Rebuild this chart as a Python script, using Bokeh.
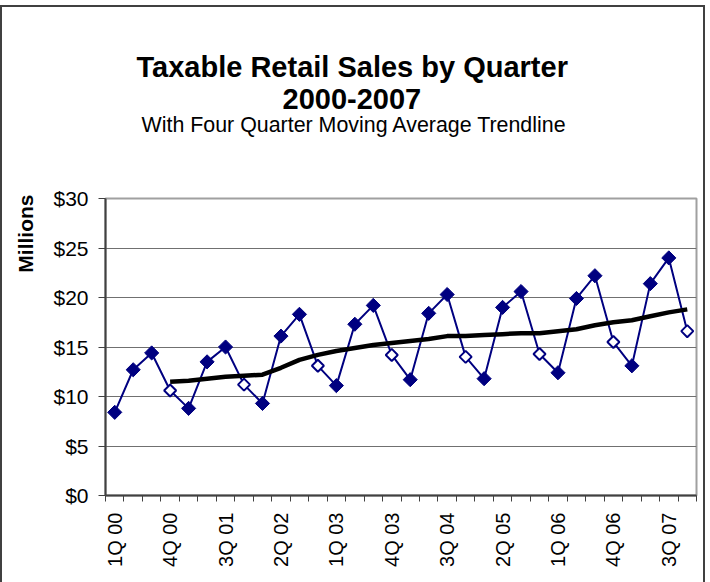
import math
from bokeh.plotting import figure
from bokeh.models import Range1d, FixedTicker, PrintfTickFormatter, ColumnDataSource, Title
from bokeh.embed import file_html
from bokeh.resources import INLINE

# ---- data ----
quarters = ["1Q 00", "2Q 00", "3Q 00", "4Q 00",
            "1Q 01", "2Q 01", "3Q 01", "4Q 01",
            "1Q 02", "2Q 02", "3Q 02", "4Q 02",
            "1Q 03", "2Q 03", "3Q 03", "4Q 03",
            "1Q 04", "2Q 04", "3Q 04", "4Q 04",
            "1Q 05", "2Q 05", "3Q 05", "4Q 05",
            "1Q 06", "2Q 06", "3Q 06", "4Q 06",
            "1Q 07", "2Q 07", "3Q 07", "4Q 07"]
sales = [8.4, 12.7, 14.4, 10.6,
         8.8, 13.5, 15.0, 11.2,
         9.3, 16.1, 18.3, 13.1,
         11.1, 17.3, 19.2, 14.2,
         11.7, 18.4, 20.3, 14.0,
         11.8, 19.0, 20.6, 14.3,
         12.4, 19.9, 22.2, 15.5,
         13.1, 21.4, 24.0, 16.6]
# four quarter moving average, starting at 4Q 00
ma_start = "4Q 00"
moving_avg = [11.5, 11.6, 11.8, 12.0, 12.1, 12.2, 12.9, 13.7, 14.2, 14.6,
              14.9, 15.2, 15.4, 15.6, 15.8, 16.1, 16.1, 16.2, 16.3, 16.4,
              16.4, 16.6, 16.8, 17.2, 17.5, 17.7, 18.1, 18.5, 18.8]
tick_labels = ["1Q 00", "4Q 00", "3Q 01", "2Q 02", "1Q 03", "4Q 03",
               "3Q 04", "2Q 05", "1Q 06", "4Q 06", "3Q 07"]
y_ticks = [0, 5, 10, 15, 20, 25, 30]

FONT = "Liberation Sans"
NAVY = "#000080"

xs = list(range(len(quarters)))
i0 = quarters.index(ma_start)
ma_x = xs[i0:i0 + len(moving_avg)]

p = figure(width=705, height=577,
           x_range=Range1d(-0.5, len(quarters) - 0.5), y_range=Range1d(0, 30),
           output_backend="svg", toolbar_location=None,
           min_border_left=103, min_border_right=11,
           min_border_top=191, min_border_bottom=89,
           margin=(5, 0, 0, 0),
           styles={"border-top": "2px solid #404040",
                   "border-left": "2px solid #404040",
                   "border-right": "2px solid #404040"})
p.background_fill_color = "white"
p.border_fill_color = "white"
p.outline_line_color = "#a0a0a0"
p.outline_line_width = 2

# grid
p.xgrid.visible = False
p.ygrid.ticker = FixedTicker(ticks=y_ticks)
p.ygrid.grid_line_color = "#707070"
p.ygrid.grid_line_width = 1

# y axis
p.yaxis.ticker = FixedTicker(ticks=y_ticks)
p.yaxis.formatter = PrintfTickFormatter(format="$%d")
p.yaxis.major_label_text_font = FONT
p.yaxis.major_label_text_font_size = "21px"
p.yaxis.major_label_text_color = "black"
p.yaxis.major_tick_out = 7
p.yaxis.major_tick_in = 0
p.yaxis.minor_tick_line_color = None
p.yaxis.major_label_standoff = 10
p.yaxis.axis_line_color = "#404040"
p.yaxis.axis_line_width = 2
p.yaxis.major_tick_line_color = "#404040"

# x axis
tick_pos = [quarters.index(t) for t in tick_labels]
p.xaxis.ticker = FixedTicker(ticks=tick_pos,
                             minor_ticks=[x - 0.5 for x in xs] + [xs[-1] + 0.5])
p.xaxis.major_label_overrides = {t: l for t, l in zip(tick_pos, tick_labels)}
p.xaxis.major_label_orientation = math.pi / 2
p.xaxis.major_label_text_font = FONT
p.xaxis.major_label_text_font_size = "20px"
p.xaxis.major_label_text_color = "black"
p.xaxis.major_tick_line_color = None
p.xaxis.major_tick_out = 6
p.xaxis.major_tick_in = 0
p.xaxis.minor_tick_line_color = "#404040"
p.xaxis.minor_tick_out = 6
p.xaxis.minor_tick_in = 0
p.xaxis.minor_tick_line_width = 1
p.xaxis.major_label_standoff = 11
p.xaxis.axis_line_color = "#404040"
p.xaxis.axis_line_width = 2

# series
p.line(xs, sales, line_color=NAVY, line_width=2)
p.line(ma_x, moving_avg, line_color="black", line_width=4.5)

filled = ColumnDataSource(dict(
    x=[x for x, q in zip(xs, quarters) if not q.startswith("4Q")],
    y=[v for v, q in zip(sales, quarters) if not q.startswith("4Q")]))
hollow = ColumnDataSource(dict(
    x=[x for x, q in zip(xs, quarters) if q.startswith("4Q")],
    y=[v for v, q in zip(sales, quarters) if q.startswith("4Q")]))
p.scatter("x", "y", source=filled, marker="square", angle=math.pi / 4,
          size=10, fill_color=NAVY, line_color=NAVY, line_width=1)
p.scatter("x", "y", source=hollow, marker="square", angle=math.pi / 4,
          size=8.5, fill_color="white", line_color=NAVY, line_width=2)

# titles (stacked above the frame: first added is closest to the frame)
p.add_layout(Title(text=" ", text_font=FONT, text_font_size="10px",
                   align="left", standoff=49), "above")   # spacing below the title block
p.add_layout(Title(text="With Four Quarter Moving Average Trendline", text_font=FONT,
                   text_font_size="21.4px", text_font_style="normal", align="left",
                   offset=36, standoff=0, text_color="black"), "above")
p.add_layout(Title(text="2000-2007", text_font=FONT,
                   text_font_size="29px", text_font_style="bold", align="left",
                   offset=177, standoff=3, text_color="black"), "above")
p.add_layout(Title(text="Taxable Retail Sales by Quarter", text_font=FONT,
                   text_font_size="29px", text_font_style="bold", align="left",
                   offset=31, standoff=6, text_color="black"), "above")

# value-axis title, aligned with the top of the axis
p.add_layout(Title(text="Millions", text_font=FONT, text_font_size="21px",
                   text_font_style="bold", align="right", offset=-4,
                   vertical_align="top", standoff=23, text_color="black"), "left")

open("out.html", "w").write(file_html(p, INLINE))
